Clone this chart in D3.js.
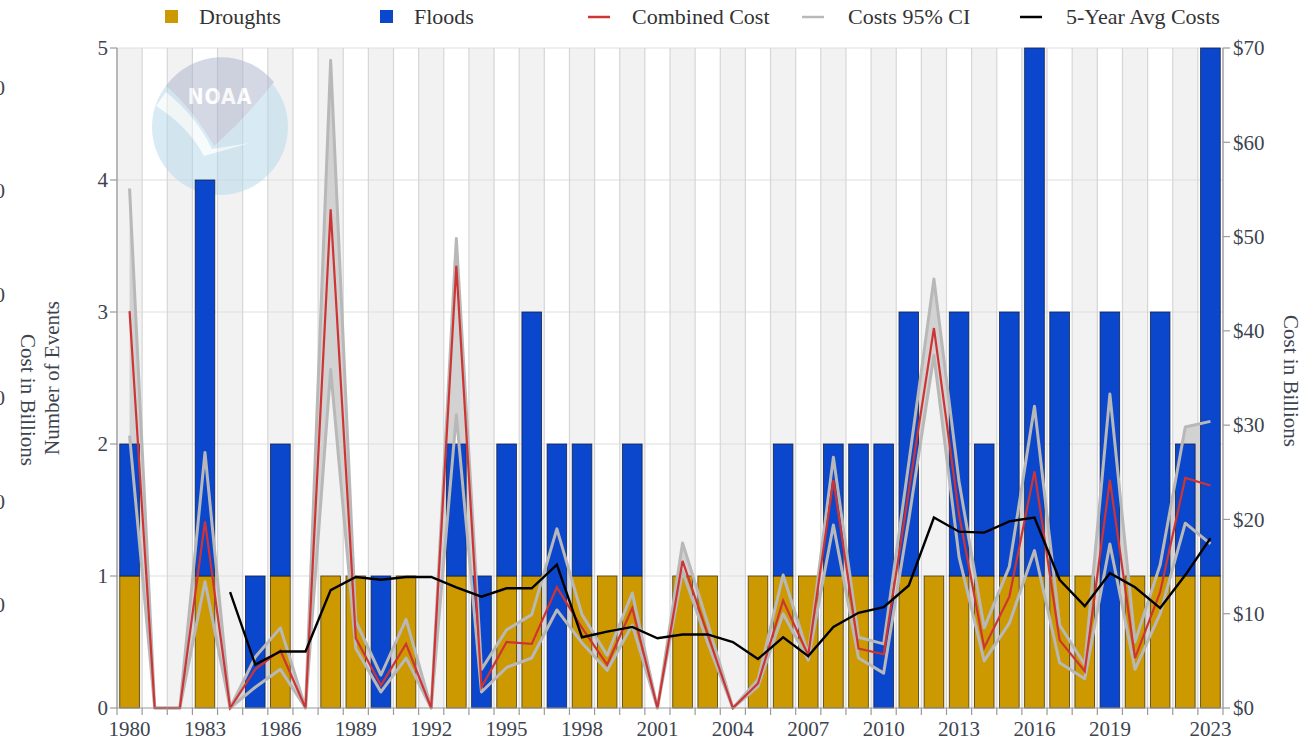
<!DOCTYPE html>
<html><head><meta charset="utf-8">
<script src="https://cdn.jsdelivr.net/npm/d3@7"></script>
<style>
body{margin:0;background:#fff}
text{font-family:"Liberation Serif","Times New Roman",serif}
</style>
</head><body>
<svg id="c" width="1312" height="746"></svg>
<script>
const years = [1980,1981,1982,1983,1984,1985,1986,1987,1988,1989,
  1990,1991,1992,1993,1994,1995,1996,1997,1998,1999,
  2000,2001,2002,2003,2004,2005,2006,2007,2008,2009,
  2010,2011,2012,2013,2014,2015,2016,2017,2018,2019,
  2020,2021,2022,2023];
const droughts = [1,0,0,1,0,0,1,0,1,1, 0,1,0,1,0,1,1,0,1,1, 1,0,1,1,0,1,1,1,1,1, 0,1,1,1,1,1,1,1,1,0, 1,1,1,1];
const floods   = [1,0,0,3,0,1,1,0,0,0, 1,0,0,1,1,1,2,2,1,0, 1,0,0,0,0,0,1,0,1,1, 2,2,0,2,1,2,4,2,0,3, 0,2,1,4];
const combinedCost = [42.1,0,0,19.8,0,4.1,6.1,0,52.9,7.4,
  2.4,6.8,0,46.9,2.2,7.0,6.8,12.8,8.5,4.6,
  10.6,0,15.6,7.8,0,2.6,11.4,5.6,24.2,6.3,
  5.7,23.0,40.3,20.5,6.4,11.8,25.1,7.2,3.9,24.2,
  5.3,12.3,24.4,23.6];
const costUpper = [55.1,0,0,27.1,0,5.4,8.5,0,68.7,9.2,
  3.5,9.4,0,49.8,4.1,8.3,9.9,19.0,9.9,5.6,
  12.2,0,17.5,9.0,0,3.0,14.1,5.7,26.6,7.5,
  6.8,26.0,45.5,24.0,8.5,15.0,32.0,8.8,4.6,33.3,
  7.0,15.2,29.8,30.4];
const costLower = [28.9,0,0,13.4,0,2.2,4.1,0,35.9,6.3,
  1.7,5.3,0,31.1,1.7,4.3,5.3,10.4,6.9,4.0,
  8.8,0,14.5,6.9,0,2.3,10.0,5.1,19.4,5.3,
  3.7,20.0,37.4,16.0,5.0,9.0,16.7,4.8,3.1,17.4,
  4.1,10.0,19.6,17.4];
const avg5 = [null,null,null,null,12.3,4.6,6.0,6.0,12.5,13.9,
  13.6,13.9,13.9,12.8,11.8,12.7,12.7,15.2,7.5,8.1,
  8.6,7.4,7.8,7.8,7.0,5.2,7.5,5.5,8.6,10.1,
  10.7,13.0,20.2,18.7,18.6,19.8,20.2,13.6,10.8,14.3,
  12.8,10.6,14.1,18.0];
const eventTicks = [0,1,2,3,4,5];
const costTicks = [0,10,20,30,40,50,60,70];
const hiddenCostTicks = [10,20,30,40,50,60];
const xLabelYears = [1980,1983,1986,1989,1992,1995,1998,2001,2004,2007,2010,2013,2016,2019,2023];

const L=117, R=1223, T=48, B=708;
const svg = d3.select("#c");
const xs = d3.scaleBand().domain(years).range([L,R]).padding(0);
const x = d3.scaleBand().domain(years).range([L,R]).paddingInner(0.22).paddingOuter(0.11);
const yE = d3.scaleLinear().domain([0,5]).range([B,T]);
const yC = d3.scaleLinear().domain([0,70]).range([B,T]);
const yH = d3.scaleLinear().domain([0,60]).range([B,87.6]);
const cx = d => xs(d) + xs.bandwidth()/2;

const DR="#cc9900", FL="#0b47cc";

// alternating bands
svg.append("g").selectAll("rect").data(years.filter((d,i)=>i%2===0)).join("rect")
  .attr("x", d=>xs(d)).attr("y", T).attr("width", xs.bandwidth()).attr("height", B-T)
  .attr("fill", "#f2f2f2");

// horizontal grid
svg.append("g").selectAll("line").data(eventTicks.slice(1)).join("line")
  .attr("x1", L).attr("x2", R).attr("y1", d=>yE(d)).attr("y2", d=>yE(d))
  .attr("stroke", "#dddddd").attr("stroke-width", 1.2);
// vertical grid at band boundaries
const bounds = years.map(d=>xs(d)).concat([R]);
svg.append("g").selectAll("line").data(bounds).join("line")
  .attr("x1", d=>d).attr("x2", d=>d).attr("y1", T).attr("y2", B)
  .attr("stroke", "#d6d6d6").attr("stroke-width", 1.2);

// NOAA logo (faded)
const logo = svg.append("g").attr("opacity", 0.5);
logo.append("circle").attr("cx", 220).attr("cy", 127).attr("r", 68).attr("fill", "#b3d9ec");
logo.append("path").attr("d", "M166,86 A68,68 0 0 1 274,82 Q246,118 214,146 Q192,108 166,86 Z").attr("fill", "#aab2cc");
logo.append("path").attr("d", "M156,106 Q188,126 204,156 L250,143 L212,149 Q196,116 166,92 Z").attr("fill", "#ffffff").attr("opacity", 0.8);
logo.append("text").attr("x", 220).attr("y", 104).attr("text-anchor", "middle")
  .attr("font-size", 21).attr("font-weight", "bold").attr("fill", "#ffffff")
  .style("font-family", "'DejaVu Sans Condensed','DejaVu Sans',sans-serif").attr("letter-spacing", 1).text("NOAA");

// CI area (behind bars)
const idx = years.map((y,i)=>i);
svg.append("path").datum(idx)
  .attr("d", d3.area().x(i=>cx(years[i])).y0(i=>yC(costLower[i])).y1(i=>yC(costUpper[i])))
  .attr("fill", "#d2d2d2");

// stacked bars
const bars = svg.append("g");
bars.selectAll("rect.d").data(years.map((y,i)=>({y, v:droughts[i]})).filter(d=>d.v>0)).join("rect")
  .attr("x", d=>x(d.y)).attr("width", x.bandwidth())
  .attr("y", d=>yE(d.v)).attr("height", d=>yE(0)-yE(d.v))
  .attr("fill", DR).attr("stroke", "#4a3a10").attr("stroke-width", 0.8);
bars.selectAll("rect.f").data(years.map((y,i)=>({y, b:droughts[i], v:floods[i]})).filter(d=>d.v>0)).join("rect")
  .attr("x", d=>x(d.y)).attr("width", x.bandwidth())
  .attr("y", d=>yE(d.b+d.v)).attr("height", d=>yE(d.b)-yE(d.b+d.v))
  .attr("fill", FL).attr("stroke", "#14244a").attr("stroke-width", 0.8);

// CI lines, combined cost, 5-year average
[costUpper, costLower].forEach(arr=>{
  svg.append("path").datum(idx)
    .attr("d", d3.line().x(i=>cx(years[i])).y(i=>yC(arr[i])))
    .attr("fill", "none").attr("stroke", "#b8b8b8").attr("stroke-width", 3).attr("stroke-linejoin","round");
});
svg.append("path").datum(idx)
  .attr("d", d3.line().x(i=>cx(years[i])).y(i=>yC(combinedCost[i])))
  .attr("fill", "none").attr("stroke", "#cf3434").attr("stroke-width", 2.2);
svg.append("path").datum(idx.filter(i=>avg5[i]!==null))
  .attr("d", d3.line().x(i=>cx(years[i])).y(i=>yC(avg5[i])))
  .attr("fill", "none").attr("stroke", "#000").attr("stroke-width", 2.4);

// axes lines
const axC = "#9a9a9a";
svg.append("line").attr("x1", L).attr("x2", L).attr("y1", T).attr("y2", B).attr("stroke", axC).attr("stroke-width", 1.2);
svg.append("line").attr("x1", R).attr("x2", R).attr("y1", T).attr("y2", B).attr("stroke", axC).attr("stroke-width", 1.2);
svg.append("line").attr("x1", L).attr("x2", R).attr("y1", B).attr("y2", B).attr("stroke", axC).attr("stroke-width", 1.2);

// bottom ticks
svg.append("g").selectAll("line").data(bounds).join("line")
  .attr("x1", d=>d).attr("x2", d=>d).attr("y1", B).attr("y2", B+7)
  .attr("stroke", axC).attr("stroke-width", 1.2);
svg.append("g").selectAll("text").data(xLabelYears).join("text")
  .attr("x", d=>cx(d)).attr("y", 736).attr("text-anchor", "middle")
  .attr("font-size", 21).attr("fill", "#3d4450").text(d=>d);

// left axis
svg.append("g").selectAll("line").data(eventTicks).join("line")
  .attr("x1", L-7).attr("x2", L).attr("y1", d=>yE(d)).attr("y2", d=>yE(d)).attr("stroke", axC).attr("stroke-width", 1.2);
svg.append("g").selectAll("text").data(eventTicks).join("text")
  .attr("x", L-9).attr("y", d=>yE(d)).attr("dy", "0.35em").attr("text-anchor", "end")
  .attr("font-size", 21).attr("fill", "#3d4450").text(d=>d);

// right axis
svg.append("g").selectAll("line").data(costTicks).join("line")
  .attr("x1", R).attr("x2", R+7).attr("y1", d=>yC(d)).attr("y2", d=>yC(d)).attr("stroke", axC).attr("stroke-width", 1.2);
svg.append("g").selectAll("text").data(costTicks).join("text")
  .attr("x", R+10).attr("y", d=>yC(d)).attr("dy", "0.35em").attr("text-anchor", "start")
  .attr("font-size", 21).attr("fill", "#3d4450").text(d=>"$"+d);

// cut-off left cost axis (only its last digits show at the edge, as in the original)
svg.append("g").selectAll("text").data(hiddenCostTicks).join("text")
  .attr("x", 5).attr("y", d=>yH(d)).attr("dy", "0.35em").attr("text-anchor", "end")
  .attr("font-size", 21).attr("fill", "#3d4450").text(d=>"$"+d);

// axis titles
svg.append("text").attr("transform", "translate(59,378) rotate(-90)").attr("text-anchor", "middle")
  .attr("font-size", 21).attr("fill", "#3d4450").text("Number of Events");
svg.append("text").attr("transform", "translate(21,400) rotate(90)").attr("text-anchor", "middle")
  .attr("font-size", 21).attr("fill", "#3d4450").text("Cost in Billions");
svg.append("text").attr("transform", "translate(1284,381) rotate(90)").attr("text-anchor", "middle")
  .attr("font-size", 21).attr("fill", "#3d4450").text("Cost in Billions");

// legend
const lg = svg.append("g").attr("font-size", 22).attr("fill", "#333");
const legendItems = [
  {type:"rect", color:DR, x:165, label:"Droughts", tx:199},
  {type:"rect", color:FL, x:380, label:"Floods", tx:414},
  {type:"line", color:"#cf3434", x:588, label:"Combined Cost", tx:632},
  {type:"line", color:"#b8b8b8", x:802, label:"Costs 95% CI", tx:848},
  {type:"line", color:"#000", x:1020, label:"5-Year Avg Costs", tx:1066}
];
legendItems.forEach(it=>{
  if (it.type==="rect") lg.append("rect").attr("x", it.x).attr("y", 10).attr("width", 13).attr("height", 13).attr("fill", it.color);
  else lg.append("line").attr("x1", it.x).attr("x2", it.x+22).attr("y1", 17).attr("y2", 17).attr("stroke", it.color).attr("stroke-width", 2.5);
  lg.append("text").attr("x", it.tx).attr("y", 24).attr("fill", "#333").text(it.label);
});
</script>
</body></html>
